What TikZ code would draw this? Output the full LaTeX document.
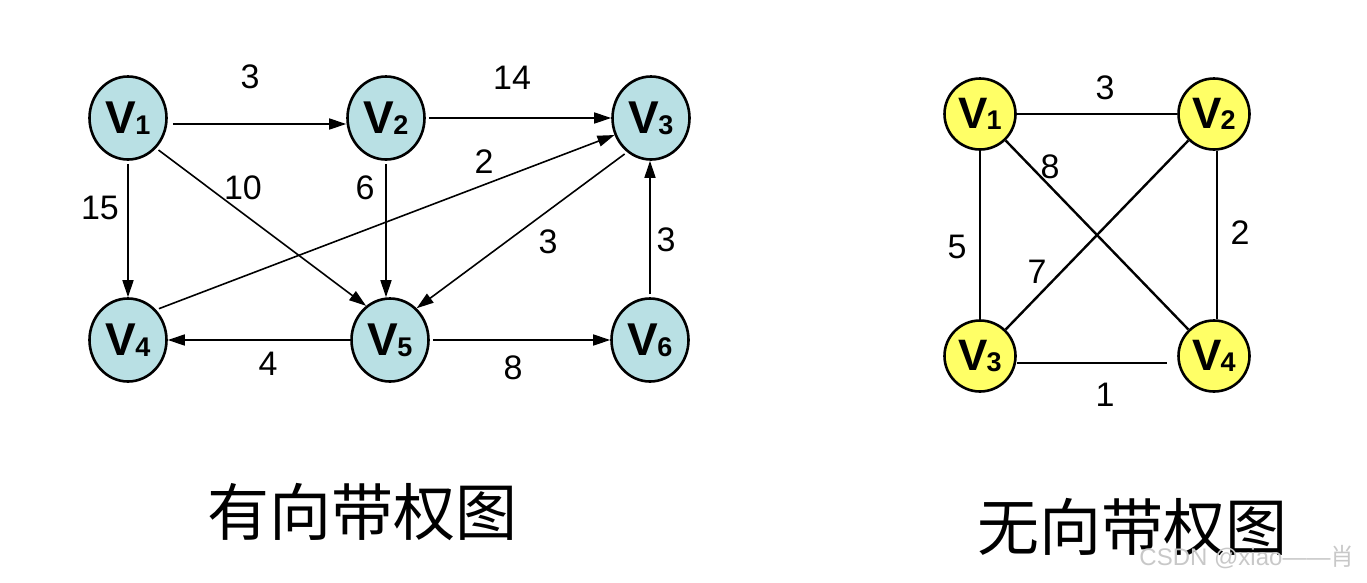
\documentclass[tikz,border=0pt]{standalone}
\usepackage{fontspec}
\setmainfont{Liberation Sans}
\newfontfamily\cjk{Noto Sans CJK SC}
\usetikzlibrary{shapes.geometric,arrows.meta}
\definecolor{nodeblue}{RGB}{185,224,228}
\definecolor{nodeyellow}{RGB}{255,255,102}
\definecolor{wmgray}{RGB}{200,200,200}
\tikzset{
  dnode/.style={ellipse,draw=black,line width=2.6pt,fill=nodeblue,minimum width=77pt,minimum height=83pt,inner sep=0pt,font=\fontsize{46}{46}\selectfont\bfseries},
  unode/.style={circle,draw=black,line width=2.6pt,fill=nodeyellow,minimum size=71pt,inner sep=0pt,font=\fontsize{44}{44}\selectfont\bfseries},
  darr/.style={line width=1.6pt,-{Triangle[length=17pt,width=11pt]}},
  uedge/.style={line width=2.4pt},
  wlab/.style={font=\fontsize{34}{34}\selectfont,inner sep=0pt},
  title/.style={font=\cjk\fontsize{62}{62}\selectfont,inner sep=0pt}
}
\newcommand{\vlab}[1]{V\kern-1pt\raisebox{-1pt}{\fontsize{27}{27}\selectfont #1}}
\begin{document}
\begin{tikzpicture}[x=1pt,y=-1pt]
\useasboundingbox (0,0) rectangle (1367,582);
% directed graph
\node[dnode] (a1) at (128,118) {\vlab{1}};
\node[dnode] (a2) at (386,118) {\vlab{2}};
\node[dnode] (a3) at (651,118) {\vlab{3}};
\node[dnode] (a4) at (128,340) {\vlab{4}};
\node[dnode] (a5) at (390,340) {\vlab{5}};
\node[dnode] (a6) at (650,340) {\vlab{6}};
\draw[darr,shorten <=5pt] ([yshift=-6pt]a1.east) -- ([yshift=-6pt]a2.west);
\draw[darr,shorten <=3pt] (a2.east) -- (a3.west);
\draw[darr,shorten <=3pt] (a1.south) -- (a4.north);
\draw[darr,shorten <=3pt] (a1.south east) -- (a5.125);
\draw[darr,shorten <=3pt] (a2.south) -- (a2.south |- a5.north);
\draw[darr,shorten <=3pt] (a4.north east) -- (a3.205);
\draw[darr,shorten <=3pt] (a3.235) -- (a5.50);
\draw[darr,shorten <=3pt] (a6.north) -- (a6.north |- a3.south);
\draw[darr] (a5.west) -- (a4.east);
\draw[darr,shorten <=3pt] (a5.east) -- (a6.west);
\node[wlab] (l1) at (250,77) {3};
\node[wlab] (l2) at (512,78) {14};
\node[wlab] (l3) at (100,208) {15};
\node[wlab] (l4) at (243,188) {10};
\node[wlab] (l5) at (365,188) {6};
\node[wlab] (l6) at (484,162) {2};
\node[wlab] (l7) at (548,242) {3};
\node[wlab] (l8) at (666,240) {3};
\node[wlab] (l9) at (268,364) {4};
\node[wlab] (l10) at (513,368) {8};
% undirected graph
\node[unode] (b1) at (980,114) {\vlab{1}};
\node[unode] (b2) at (1214,114) {\vlab{2}};
\node[unode] (b3) at (980,356) {\vlab{3}};
\node[unode] (b4) at (1214,356) {\vlab{4}};
\draw[uedge] (b1) -- (b2);
\draw[uedge] (b1) -- (b3);
\draw[uedge] ([xshift=3pt]b2.south) -- ([xshift=3pt]b4.north);
\draw[uedge,shorten >=10pt] ([yshift=-7pt]b3.east) -- ([yshift=-7pt]b4.west);
\draw[uedge] (b1) -- (b4);
\draw[uedge] (b2) -- (b3);
\node[wlab] (m1) at (1105,88) {3};
\node[wlab] (m2) at (1050,167) {8};
\node[wlab] (m3) at (957,247) {5};
\node[wlab] (m4) at (1037,272) {7};
\node[wlab] (m5) at (1240,233) {2};
\node[wlab] (m6) at (1105,395) {1};
% titles
\node[title] (t1) at (362,512) {有向带权图};
\node[title] (t2) at (1132,527) {无向带权图};
\node[inner sep=0pt,text=wmgray,font=\fontsize{24}{24}\selectfont] (wm) at (1247,557) {CSDN @xiao——{\cjk 肖}};
\end{tikzpicture}
\end{document}
